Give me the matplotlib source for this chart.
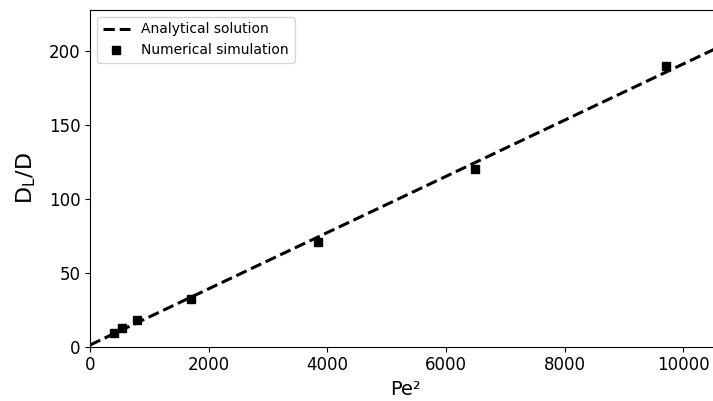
import numpy as np
import matplotlib
matplotlib.use("Agg")
import matplotlib.pyplot as plt

# Data
pe2_sim = [405, 535, 800, 1695, 3845, 6485, 9715]
dl_sim = [9.3, 12.4, 18.0, 32.2, 71.0, 120.0, 190.0]
pe2_line = [0, 11500]
dl_line = [1.0, 1.0 + 2.0 * 11500 / 105.0]

fig = plt.figure(figsize=(7.13, 4.01), dpi=100)
ax = fig.add_axes([90/713, 1 - 346.5/401, 630/713, (346.5 - 10)/401])
ax.plot(pe2_line, dl_line, 'k--', lw=2.2, label='Analytical solution')
ax.plot(pe2_sim, dl_sim, 'ks', ms=6, ls='none', label='Numerical simulation')
ax.set_xlim(0, 10500 * 630 / 623)
ax.set_ylim(0, 228)
ax.set_xticks([0, 2000, 4000, 6000, 8000, 10000])
ax.set_yticks([0, 50, 100, 150, 200])
ax.tick_params(labelsize=12)
ax.set_xlabel('Pe²', fontsize=14)
ax.set_ylabel('D$_\\mathregular{L}$/D', fontsize=16, labelpad=8)
ax.legend(loc='upper left', fontsize=10)
fig.savefig('out.png', dpi=100)
